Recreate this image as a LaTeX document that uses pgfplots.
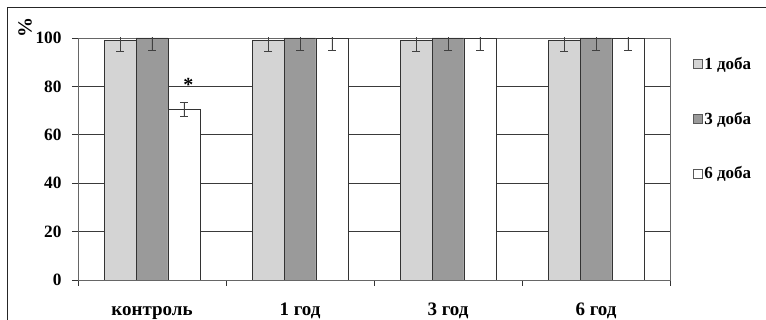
\documentclass[border=0pt]{standalone}
\usepackage{pgfplots}
\pgfplotsset{compat=1.18}
\usetikzlibrary{calc}
\usepackage{fontspec}
\setmainfont{Liberation Serif}
\definecolor{marble}{HTML}{D4D4D4}
\definecolor{midgray}{HTML}{9A9A9A}
\definecolor{gridc}{HTML}{3A3A3A}
\begin{document}
\begin{tikzpicture}[x=1pt,y=1pt]
\begin{axis}[
  at={(0,0)}, anchor=south west,
  scale only axis, width=592pt, height=242pt,
  ymin=0, ymax=100, xmin=-0.5, xmax=3.5,
  ytick={0,20,40,60,80,100},
  ymajorgrids, grid style={gridc, line width=0.8pt},
  xtick={0,1,2,3},
  xticklabels={контроль,1 год,3 год,6 год},
  major x tick style={draw=none},
  minor xtick={-0.5,0.5,1.5,2.5,3.5},
  minor tick length=6pt,
  major tick length=6pt,
  tick align=outside,
  tick style={black!80, line width=0.8pt},
  xtick pos=bottom, ytick pos=left,
  axis line style={black!60, line width=0.8pt},
  ybar=0pt, bar width=0.216,
  ticklabel style={font=\bfseries\fontsize{17.3}{17.3}\selectfont},
  xticklabel style={anchor=north, inner sep=0pt, text height=13pt, text depth=4pt, yshift=-16pt, font=\bfseries\fontsize{19}{19}\selectfont},
  yticklabel style={xshift=-7pt},
  legend style={draw=none, fill=none, at={(1.033,0.938)}, anchor=north west,
    font=\bfseries\fontsize{17}{17}\selectfont, row sep=37pt,
    legend cell align=left, nodes={inner xsep=2pt}},
  legend image code/.code={\draw[#1, draw=black!65, line width=0.6pt] (0pt,-4.5pt) rectangle (9pt,4.5pt);},
  /pgf/number format/assume math mode=true,
  clip=true,
]
\addplot[fill=marble, draw=black!80, line width=0.8pt,
  error bars/.cd, y dir=both, y explicit,
  error bar style={black!75, line width=0.9pt}, error mark options={rotate=90, mark size=4pt, black!75, line width=0.9pt}]
  coordinates {(0,99) +- (0,4.5) (1,99) +- (0,4.5) (2,99) +- (0,4.5) (3,99) +- (0,4.5)};
\addplot[fill=midgray, draw=black!80, line width=0.8pt,
  error bars/.cd, y dir=both, y explicit,
  error bar style={black!75, line width=0.9pt}, error mark options={rotate=90, mark size=4pt, black!75, line width=0.9pt}]
  coordinates {(0,100) +- (0,5) (1,100) +- (0,5) (2,100) +- (0,5) (3,100) +- (0,5)};
\addplot[fill=white, draw=black!80, line width=0.8pt,
  error bars/.cd, y dir=both, y explicit,
  error bar style={black!75, line width=0.9pt}, error mark options={rotate=90, mark size=4pt, black!75, line width=0.9pt}]
  coordinates {(0,70.5) +- (0,3) (1,100) +- (0,5) (2,100) +- (0,5) (3,100) +- (0,5)};
\legend{1 доба,3 доба,6 доба}
\node[font=\bfseries\fontsize{20}{20}\selectfont] at (axis cs:0.245,80.5) {*};
\coordinate (O) at (rel axis cs:0,0);
\end{axis}
\pgfresetboundingbox
\path[use as bounding box] ($(O)+(-78,-40)$) rectangle ++(766,320);
\draw[black!85, line width=1pt] ($(O)+(-70,-45)$) -- ($(O)+(-70,272)$) -- ($(O)+(700,272)$);
\node[rotate=90, font=\bfseries\fontsize{20}{20}\selectfont] at ($(O)+(-53,252)$) {\%};
\end{tikzpicture}
\end{document}
